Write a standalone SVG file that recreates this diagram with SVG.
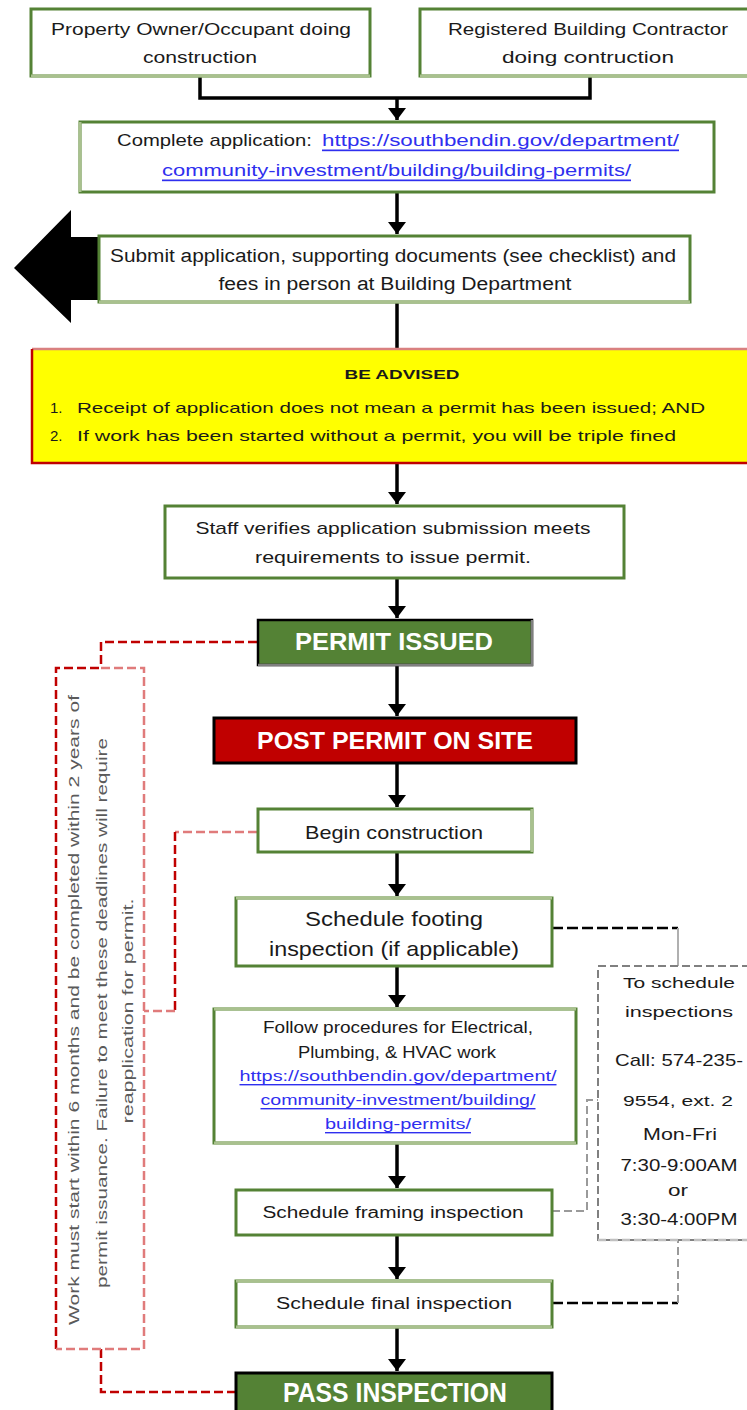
<svg xmlns="http://www.w3.org/2000/svg" width="747" height="1410" viewBox="0 0 747 1410">
<style>
.box{fill:#fff;stroke:#548235;stroke-width:3}
.lite{stroke:#a9c18e;stroke-width:3;fill:none}
.t{font-family:"Liberation Sans",Arial,sans-serif;fill:#1a1a1a;dominant-baseline:central;text-anchor:middle}
.lnk{font-family:"Liberation Sans",Arial,sans-serif;fill:#2f2fef;text-decoration:underline;dominant-baseline:central}
.wb{font-family:"Liberation Sans",Arial,sans-serif;fill:#fff;font-weight:bold;dominant-baseline:central;text-anchor:middle}
.main{stroke:#000;stroke-width:3.5;fill:none}
.rd{stroke:#c00000;stroke-width:2.5;fill:none;stroke-dasharray:9 4}
.pk{stroke:#e07b7b;stroke-width:2.5;fill:none;stroke-dasharray:9 4}
.bd{stroke:#000;stroke-width:2.5;fill:none;stroke-dasharray:11 4}
.gd{stroke:#9a9a9a;stroke-width:2;fill:none;stroke-dasharray:8 4}
.note{font-family:"Liberation Sans",Arial,sans-serif;fill:#5a5a5a;font-size:15px;dominant-baseline:central;text-anchor:middle}
</style>
<defs>
<marker id="ah" viewBox="0 0 10 10" refX="10" refY="5" markerWidth="12" markerHeight="18" markerUnits="userSpaceOnUse" orient="auto" preserveAspectRatio="none">
<path d="M0,0 L10,5 L0,10 z" fill="#000"/>
</marker>
</defs>
<rect width="747" height="1410" fill="#fff"/>

<g id="connectors">
<path class="main" d="M200,77 V98 H590 V77"/>
<path class="main" d="M397,98 V120" marker-end="url(#ah)"/>
<path class="main" d="M397,192 V234" marker-end="url(#ah)"/>
<path class="main" d="M397,302 V348"/>
<path class="main" d="M397,463 V504" marker-end="url(#ah)"/>
<path class="main" d="M397,579 V618" marker-end="url(#ah)"/>
<path class="main" d="M397,666 V716" marker-end="url(#ah)"/>
<path class="main" d="M397,764 V807" marker-end="url(#ah)"/>
<path class="main" d="M397,853 V896" marker-end="url(#ah)"/>
<path class="main" d="M397,967 V1007" marker-end="url(#ah)"/>
<path class="main" d="M397,1144 V1188" marker-end="url(#ah)"/>
<path class="main" d="M397,1236 V1279" marker-end="url(#ah)"/>
<path class="main" d="M397,1328 V1371" marker-end="url(#ah)"/>
<path class="rd" d="M257,642 H101 V668"/>
<path class="pk" d="M257,832 H175"/>
<path class="rd" d="M175,832 V1011"/>
<path class="pk" d="M175,1011 H144"/>
<path class="rd" d="M101,1349 V1392 H235"/>
<path class="bd" d="M552,928 H678"/>
<path d="M678,928 V966" stroke="#b0b0b0" stroke-width="2" fill="none"/>
<path class="gd" d="M552,1211 H587 V1100 H598"/>
<path class="bd" d="M552,1303 H678"/>
<path class="gd" d="M678,1303 V1240"/>
</g>

<g id="owner">
<rect class="box" x="31" y="9" width="339" height="67"/>
<path class="lite" d="M31,76 H370"/>
<text class="t" x="201" y="29" font-size="17" textLength="300" lengthAdjust="spacingAndGlyphs">Property Owner/Occupant doing</text>
<text class="t" x="200" y="57" font-size="17" textLength="114" lengthAdjust="spacingAndGlyphs">construction</text>
</g>

<g id="contractor">
<rect class="box" x="420" y="9" width="340" height="67"/>
<path class="lite" d="M420,76 H760"/>
<text class="t" x="588" y="29" font-size="17" textLength="280" lengthAdjust="spacingAndGlyphs">Registered Building Contractor</text>
<text class="t" x="588" y="57" font-size="17" textLength="172" lengthAdjust="spacingAndGlyphs">doing contruction</text>
</g>

<g id="complete">
<rect class="box" x="80" y="122" width="634" height="70"/>
<path class="lite" d="M80,122 V192"/>
<text class="t" x="117" y="140" font-size="17" textLength="195" lengthAdjust="spacingAndGlyphs" style="text-anchor:start">Complete application:</text>
<text class="lnk" x="322" y="140" font-size="17" textLength="357" lengthAdjust="spacingAndGlyphs">https://southbendin.gov/department/</text>
<text class="lnk" x="162" y="170" font-size="17" textLength="469" lengthAdjust="spacingAndGlyphs">community-investment/building/building-permits/</text>
</g>

<g id="submit">
<polygon points="99,237 71,237 71,210 14,268 71,323 71,300 99,300" fill="#000"/>
<rect class="box" x="99" y="236" width="591" height="66"/>
<path class="lite" d="M99,302 H690"/>
<text class="t" x="393" y="256" font-size="18" textLength="566" lengthAdjust="spacingAndGlyphs">Submit application, supporting documents (see checklist) and</text>
<text class="t" x="395" y="284" font-size="18" textLength="353" lengthAdjust="spacingAndGlyphs">fees in person at Building Department</text>
</g>

<g id="advised">
<rect x="32" y="349" width="730" height="114" fill="#ffff00"/>
<path d="M32,349 H747" stroke="#d98080" stroke-width="2.5" fill="none"/>
<path d="M32,349 V463 H747" stroke="#c00000" stroke-width="2.5" fill="none"/>
<text class="t" x="402" y="375" font-size="12" font-weight="bold" textLength="115" lengthAdjust="spacingAndGlyphs">BE ADVISED</text>
<text class="t" x="50" y="407" font-size="15" style="text-anchor:start">1.</text>
<text class="t" x="77" y="407" font-size="15" textLength="628" lengthAdjust="spacingAndGlyphs" style="text-anchor:start">Receipt of application does not mean a permit has been issued; AND</text>
<text class="t" x="50" y="435" font-size="15" style="text-anchor:start">2.</text>
<text class="t" x="77" y="435" font-size="15" textLength="599" lengthAdjust="spacingAndGlyphs" style="text-anchor:start">If work has  been started without a  permit, you will be triple fined</text>
</g>

<g id="staff">
<rect class="box" x="165" y="506" width="459" height="72"/>
<text class="t" x="393" y="528" font-size="17" textLength="395" lengthAdjust="spacingAndGlyphs">Staff verifies application submission meets</text>
<text class="t" x="393" y="557" font-size="17" textLength="276" lengthAdjust="spacingAndGlyphs">requirements to issue permit.</text>
</g>

<g id="issued">
<rect x="258" y="620" width="274" height="45" fill="#548235" stroke="#000" stroke-width="2.5"/>
<path d="M258,665 H532 V620" stroke="#7f7f7f" stroke-width="2.5" fill="none"/>
<text class="wb" x="394" y="642" font-size="23" textLength="198" lengthAdjust="spacingAndGlyphs">PERMIT ISSUED</text>
</g>

<g id="post">
<rect x="214" y="718" width="362" height="45" fill="#c00000" stroke="#000" stroke-width="3"/>
<text class="wb" x="395" y="740" font-size="24" textLength="276" lengthAdjust="spacingAndGlyphs">POST PERMIT ON SITE</text>
</g>

<g id="begin">
<rect class="box" x="258" y="809" width="274" height="43"/>
<path class="lite" d="M532,809 V852"/>
<text class="t" x="394" y="832" font-size="19" textLength="178" lengthAdjust="spacingAndGlyphs">Begin construction</text>
</g>

<g id="footing">
<rect class="box" x="236" y="898" width="316" height="68"/>
<path class="lite" d="M236,898 H552"/>
<text class="t" x="394" y="918" font-size="21" textLength="178" lengthAdjust="spacingAndGlyphs">Schedule footing</text>
<text class="t" x="394" y="948" font-size="21" textLength="250" lengthAdjust="spacingAndGlyphs">inspection (if applicable)</text>
</g>

<g id="follow">
<rect class="box" x="214" y="1009" width="362" height="134"/>
<path class="lite" d="M214,1009 H576 M214,1143 H576"/>
<text class="t" x="398" y="1027" font-size="16" textLength="270" lengthAdjust="spacingAndGlyphs">Follow procedures for Electrical,</text>
<text class="t" x="397" y="1052" font-size="16" textLength="198" lengthAdjust="spacingAndGlyphs">Plumbing, &amp; HVAC work</text>
<text class="lnk" x="398" y="1076" font-size="14" textLength="317" lengthAdjust="spacingAndGlyphs" style="text-anchor:middle">https://southbendin.gov/department/</text>
<text class="lnk" x="398" y="1100" font-size="14" textLength="275" lengthAdjust="spacingAndGlyphs" style="text-anchor:middle">community-investment/building/</text>
<text class="lnk" x="398" y="1124" font-size="14" textLength="146" lengthAdjust="spacingAndGlyphs" style="text-anchor:middle">building-permits/</text>
</g>

<g id="framing">
<rect class="box" x="236" y="1190" width="316" height="45"/>
<text class="t" x="393" y="1212" font-size="16" textLength="261" lengthAdjust="spacingAndGlyphs">Schedule framing inspection</text>
</g>

<g id="final">
<rect class="box" x="236" y="1281" width="316" height="46"/>
<path class="lite" d="M236,1281 H552 M236,1327 H552"/>
<text class="t" x="394" y="1303" font-size="16" textLength="236" lengthAdjust="spacingAndGlyphs">Schedule final inspection</text>
</g>

<g id="pass">
<rect x="236" y="1373" width="316" height="50" fill="#548235" stroke="#000" stroke-width="3"/>
<text class="wb" x="395" y="1392" font-size="28" textLength="224" lengthAdjust="spacingAndGlyphs">PASS INSPECTION</text>
</g>

<g id="schedule-info">
<rect x="598" y="966" width="170" height="274" fill="#fff" stroke="#808080" stroke-width="2" stroke-dasharray="8 4"/>
<path d="M598,1240 H747" stroke="#c0c0c0" stroke-width="2.5" stroke-dasharray="8 4" fill="none"/>
<text class="t" x="679" y="982" font-size="15" textLength="112" lengthAdjust="spacingAndGlyphs">To schedule</text>
<text class="t" x="679" y="1011" font-size="15" textLength="108" lengthAdjust="spacingAndGlyphs">inspections</text>
<text class="t" x="679" y="1060" font-size="17" textLength="128" lengthAdjust="spacingAndGlyphs">Call: 574-235-</text>
<text class="t" x="678" y="1100" font-size="15" textLength="110" lengthAdjust="spacingAndGlyphs">9554, ext. 2</text>
<text class="t" x="680" y="1134" font-size="17" textLength="74" lengthAdjust="spacingAndGlyphs">Mon-Fri</text>
<text class="t" x="679" y="1165" font-size="17" textLength="117" lengthAdjust="spacingAndGlyphs">7:30-9:00AM</text>
<text class="t" x="678" y="1190" font-size="17" textLength="20" lengthAdjust="spacingAndGlyphs">or</text>
<text class="t" x="679" y="1219" font-size="17" textLength="117" lengthAdjust="spacingAndGlyphs">3:30-4:00PM</text>
</g>

<g id="deadline-note">
<path d="M56,1349 V668 H101" stroke="#c00000" stroke-width="2.5" stroke-dasharray="9 4" fill="none"/>
<path d="M101,668 H144 V1349 H56" stroke="#e07b7b" stroke-width="2.5" stroke-dasharray="9 4" fill="none"/>
<text class="note" transform="translate(73,1010) rotate(-90)" textLength="630" lengthAdjust="spacingAndGlyphs">Work must start within 6 months and be completed within 2 years of</text>
<text class="note" transform="translate(101,1013) rotate(-90)" textLength="550" lengthAdjust="spacingAndGlyphs">permit issuance.  Failure to meet these deadlines will require</text>
<text class="note" transform="translate(127,1011) rotate(-90)" textLength="225" lengthAdjust="spacingAndGlyphs">reapplication for permit.</text>
</g>
</svg>
